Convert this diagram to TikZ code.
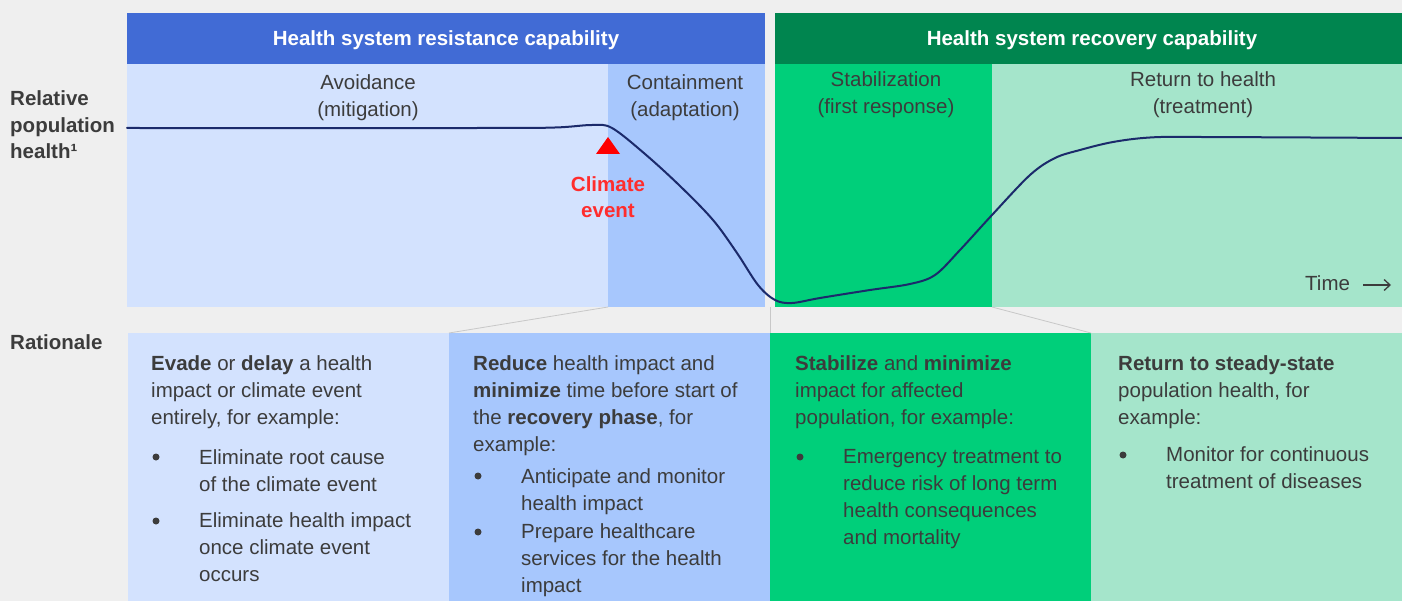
\documentclass[tikz,border=0pt]{standalone}
\usepackage{fontspec}
\setmainfont{Liberation Sans}
\usetikzlibrary{arrows.meta}
\definecolor{bg}{HTML}{EFEFEF}
\definecolor{hdrblue}{HTML}{416BD5}
\definecolor{hdrgreen}{HTML}{00854F}
\definecolor{lblue}{HTML}{D3E2FE}
\definecolor{mblue}{HTML}{A7C7FD}
\definecolor{bgreen}{HTML}{00CF7A}
\definecolor{lgreen}{HTML}{A5E5CB}
\definecolor{navy}{HTML}{1B2A6B}
\definecolor{txt}{HTML}{3C3C3C}
\definecolor{evred}{HTML}{FF2D2D}
\definecolor{connc}{HTML}{C8C8C8}
\begin{document}
\begin{tikzpicture}[x=1pt,y=-1pt,
 panel/.style={anchor=north west, inner sep=0pt, outer sep=0pt, draw=none},
 hdrtext/.style={font=\fontsize{20.5}{24}\selectfont\bfseries, text=white, anchor=base, inner sep=0pt},
 phase/.style={font=\fontsize{20.5}{27}\selectfont, text=txt, align=center, anchor=base, inner sep=0pt},
 body/.style={font=\fontsize{20.5}{26.7}\selectfont, text=txt, align=left, anchor=base west, inner sep=0pt},
 side/.style={font=\fontsize{20.5}{26.7}\selectfont\bfseries, text=txt, align=left, anchor=base west, inner sep=0pt},
 evtext/.style={font=\fontsize{20.5}{26}\selectfont\bfseries, text=evred, align=center, anchor=base, inner sep=0pt},
 dot/.style={circle, fill=txt, inner sep=0pt, minimum size=7pt},
 link/.style={draw=connc, line width=0.8pt},
 curve/.style={draw=navy, line width=2pt, line cap=round},
 tarrow/.style={draw=txt, line width=1.3pt, -{Straight Barb[length=6pt,width=11pt]}}
]
\fill[bg] (0,0) rectangle (1402,601);
\useasboundingbox (0,0) rectangle (1402,601);

% headers
\node[panel, fill=hdrblue, minimum width=638pt, minimum height=51pt] (hdrA) at (127,13) {};
\node[panel, fill=hdrgreen, minimum width=627pt, minimum height=51pt] (hdrB) at (775,13) {};
% top panels
\node[panel, fill=lblue, minimum width=481pt, minimum height=243pt] (pAvoid) at (127,64) {};
\node[panel, fill=mblue, minimum width=157pt, minimum height=243pt] (pContain) at (608,64) {};
\node[panel, fill=bgreen, minimum width=217pt, minimum height=243pt] (pStab) at (775,64) {};
\node[panel, fill=lgreen, minimum width=410pt, minimum height=243pt] (pReturn) at (992,64) {};
% bottom boxes
\node[panel, fill=lblue, minimum width=321pt, minimum height=268pt] (b1) at (128,333) {};
\node[panel, fill=mblue, minimum width=321pt, minimum height=268pt] (b2) at (449,333) {};
\node[panel, fill=bgreen, minimum width=321pt, minimum height=268pt] (b3) at (770,333) {};
\node[panel, fill=lgreen, minimum width=311pt, minimum height=268pt] (b4) at (1091,333) {};

% connectors
\draw[link] (pContain.south west) -- (b2.north west);
\draw[link] (pReturn.south west) -- (b4.north west);
\draw[link] (b3.north west) -- (b3.north west |- pStab.south);

% header texts
\node[hdrtext] (hdrAt) at (446,46) {Health system resistance capability};
\node[hdrtext] (hdrBt) at (1092,46) {Health system recovery capability};

% phase labels (anchored at last line baseline)
\node[phase] (lAvoid) at (368,117) {Avoidance\\(mitigation)};
\node[phase] (lContain) at (685,117) {Containment\\(adaptation)};
\node[phase] (lStab) at (886,114) {Stabilization\\(first response)};
\node[phase] (lReturn) at (1203,114) {Return to health\\(treatment)};

% side labels
\node[side] (sRel) at (10,159) {Relative\\population\\health¹};
\node[side] (sRat) at (10,349) {Rationale};

% curve
\draw[curve] plot[smooth, tension=0.55] coordinates {(127,128) (480,128) (555,127.5) (592,125) (612,128) (645,154) (680,186) (713,220) (737,253) (758,285) (775,300) (792,303) (820,298) (870,290) (910,284) (935,275) (960,250) (992,215) (1030,175) (1055,158) (1080,150) (1113,142) (1150,137.5) (1200,137) (1402,138)};

% climate event
\fill[red] (596,154) -- (608,137) -- (620,154) -- cycle;
\node[evtext] (ev) at (608,218) {Climate\\event};

% time
\node[body] (time) at (1305,291) {Time};
\coordinate (tS) at (1363,285);
\coordinate (tE) at (1391,285);
\draw[tarrow] (tS) -- (tE);

% box 1
\node[body] (t1) at (151,424) {\textbf{Evade} or \textbf{delay} a health\\impact or climate event\\entirely, for example:};
\node[dot] (d1a) at (156,457) {};
\node[body] (t1a) at (199,491) {Eliminate root cause\\of the climate event};
\node[dot] (d1b) at (156,521) {};
\node[body] (t1b) at (199,581) {Eliminate health impact\\once climate event\\occurs};

% box 2
\node[body] (t2) at (473,451) {\textbf{Reduce} health impact and\\\textbf{minimize} time before start of\\the \textbf{recovery phase}, for\\example:};
\node[dot] (d2a) at (478,476) {};
\node[body] (t2a) at (521,510) {Anticipate and monitor\\health impact};
\node[dot] (d2b) at (478,532) {};
\node[body] (t2b) at (521,592) {Prepare healthcare\\services for the health\\impact};

% box 3
\node[body] (t3) at (795,424) {\textbf{Stabilize} and \textbf{minimize}\\impact for affected\\population, for example:};
\node[dot] (d3a) at (800,457) {};
\node[body] (t3a) at (843,544) {Emergency treatment to\\reduce risk of long term\\health consequences\\and mortality};

% box 4
\node[body] (t4) at (1118,424) {\textbf{Return to steady-state}\\population health, for\\example:};
\node[dot] (d4a) at (1123,455) {};
\node[body] (t4a) at (1166,488) {Monitor for continuous\\treatment of diseases};
\end{tikzpicture}
\end{document}
